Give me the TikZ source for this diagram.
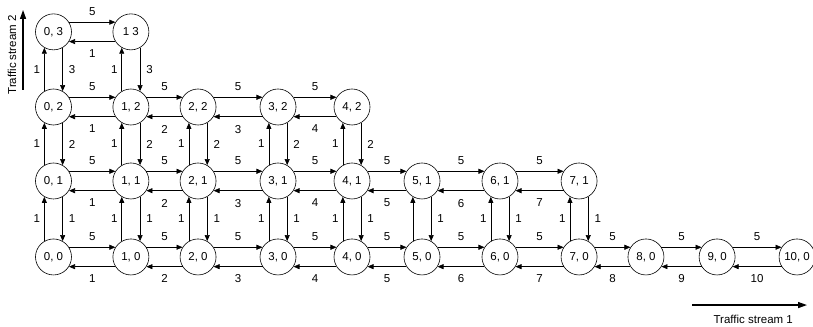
\documentclass[tikz,border=0pt]{standalone}
\usepackage{fontspec}
\setmainfont{Liberation Sans}
\usetikzlibrary{arrows.meta, positioning}
\tikzset{
    stateNode/.style={
        circle, draw=black, fill=white, line width=0.6pt, minimum size=36pt, inner sep=0pt, font=\fontsize{11.5}{13}\selectfont
    },
    rateArrow/.style={
        -{Triangle[length=6pt, width=5pt]}, line width=0.6pt, draw=black
    },
    rateLabel/.style={
        font=\fontsize{11.5}{13}\selectfont, inner sep=2pt
    },
    rateAbove/.style={rateLabel, above=4pt},
    rateBelow/.style={rateLabel, below=6pt},
    rateLeft/.style={rateLabel, left=2pt},
    rateRight/.style={rateLabel, right=4pt},
    streamArrow/.style={
        -{Triangle[length=9pt, width=6pt]}, line width=1.3pt, draw=black
    }
}

\begin{document}
\begin{tikzpicture}
    \useasboundingbox (0, 0) rectangle (28.57, -11.46);

    % ── ROW 0
    \node[stateNode] (st00) at (1.88, -9.03) {0, 0};
    \node[stateNode] (st10) at (4.60, -9.03) {1, 0};
    \node[stateNode] (st20) at (6.96, -9.03) {2, 0};
    \node[stateNode] (st30) at (9.77, -9.03) {3, 0};
    \node[stateNode] (st40) at (12.37, -9.03) {4, 0};
    \node[stateNode] (st50) at (14.83, -9.03) {5, 0};
    \node[stateNode] (st60) at (17.57, -9.03) {6, 0};
    \node[stateNode] (st70) at (20.35, -9.03) {7, 0};
    \node[stateNode] (st80) at (22.70, -9.03) {8, 0};
    \node[stateNode] (st90) at (25.20, -9.03) {9, 0};
    \node[stateNode] (st100) at (28.01, -9.03) {10, 0};

    % ── ROW 1
    \node[stateNode] (st01) at (1.88, -6.36) {0, 1};
    \node[stateNode] (st11) at (4.60, -6.36) {1, 1};
    \node[stateNode] (st21) at (6.96, -6.36) {2, 1};
    \node[stateNode] (st31) at (9.77, -6.36) {3, 1};
    \node[stateNode] (st41) at (12.37, -6.36) {4, 1};
    \node[stateNode] (st51) at (14.83, -6.36) {5, 1};
    \node[stateNode] (st61) at (17.57, -6.36) {6, 1};
    \node[stateNode] (st71) at (20.35, -6.36) {7, 1};

    % ── ROW 2
    \node[stateNode] (st02) at (1.88, -3.76) {0, 2};
    \node[stateNode] (st12) at (4.60, -3.76) {1, 2};
    \node[stateNode] (st22) at (6.96, -3.76) {2, 2};
    \node[stateNode] (st32) at (9.77, -3.76) {3, 2};
    \node[stateNode] (st42) at (12.37, -3.76) {4, 2};

    % ── ROW 3
    \node[stateNode] (st03) at (1.88, -1.12) {0, 3};
    \node[stateNode] (st13) at (4.60, -1.12) {1 3};

    % Row 0 transitions
    \draw[rateArrow] (st00.32) -- node[rateAbove] {5} (st10.148);
    \draw[rateArrow] (st10.-148) -- node[rateBelow] {1} (st00.-32);
    \draw[rateArrow] (st10.32) -- node[rateAbove] {5} (st20.148);
    \draw[rateArrow] (st20.-148) -- node[rateBelow] {2} (st10.-32);
    \draw[rateArrow] (st20.32) -- node[rateAbove] {5} (st30.148);
    \draw[rateArrow] (st30.-148) -- node[rateBelow] {3} (st20.-32);
    \draw[rateArrow] (st30.32) -- node[rateAbove] {5} (st40.148);
    \draw[rateArrow] (st40.-148) -- node[rateBelow] {4} (st30.-32);
    \draw[rateArrow] (st40.32) -- node[rateAbove] {5} (st50.148);
    \draw[rateArrow] (st50.-148) -- node[rateBelow] {5} (st40.-32);
    \draw[rateArrow] (st50.32) -- node[rateAbove] {5} (st60.148);
    \draw[rateArrow] (st60.-148) -- node[rateBelow] {6} (st50.-32);
    \draw[rateArrow] (st60.32) -- node[rateAbove] {5} (st70.148);
    \draw[rateArrow] (st70.-148) -- node[rateBelow] {7} (st60.-32);
    \draw[rateArrow] (st70.32) -- node[rateAbove] {5} (st80.148);
    \draw[rateArrow] (st80.-148) -- node[rateBelow] {8} (st70.-32);
    \draw[rateArrow] (st80.32) -- node[rateAbove] {5} (st90.148);
    \draw[rateArrow] (st90.-148) -- node[rateBelow] {9} (st80.-32);
    \draw[rateArrow] (st90.32) -- node[rateAbove] {5} (st100.148);
    \draw[rateArrow] (st100.-148) -- node[rateBelow] {10} (st90.-32);

    % Row 1 transitions
    \draw[rateArrow] (st01.32) -- node[rateAbove] {5} (st11.148);
    \draw[rateArrow] (st11.-148) -- node[rateBelow] {1} (st01.-32);
    \draw[rateArrow] (st11.32) -- node[rateAbove] {5} (st21.148);
    \draw[rateArrow] (st21.-148) -- node[rateBelow] {2} (st11.-32);
    \draw[rateArrow] (st21.32) -- node[rateAbove] {5} (st31.148);
    \draw[rateArrow] (st31.-148) -- node[rateBelow] {3} (st21.-32);
    \draw[rateArrow] (st31.32) -- node[rateAbove] {5} (st41.148);
    \draw[rateArrow] (st41.-148) -- node[rateBelow] {4} (st31.-32);
    \draw[rateArrow] (st41.32) -- node[rateAbove] {5} (st51.148);
    \draw[rateArrow] (st51.-148) -- node[rateBelow] {5} (st41.-32);
    \draw[rateArrow] (st51.32) -- node[rateAbove] {5} (st61.148);
    \draw[rateArrow] (st61.-148) -- node[rateBelow] {6} (st51.-32);
    \draw[rateArrow] (st61.32) -- node[rateAbove] {5} (st71.148);
    \draw[rateArrow] (st71.-148) -- node[rateBelow] {7} (st61.-32);

    % Row 2 transitions
    \draw[rateArrow] (st02.32) -- node[rateAbove] {5} (st12.148);
    \draw[rateArrow] (st12.-148) -- node[rateBelow] {1} (st02.-32);
    \draw[rateArrow] (st12.32) -- node[rateAbove] {5} (st22.148);
    \draw[rateArrow] (st22.-148) -- node[rateBelow] {2} (st12.-32);
    \draw[rateArrow] (st22.32) -- node[rateAbove] {5} (st32.148);
    \draw[rateArrow] (st32.-148) -- node[rateBelow] {3} (st22.-32);
    \draw[rateArrow] (st32.32) -- node[rateAbove] {5} (st42.148);
    \draw[rateArrow] (st42.-148) -- node[rateBelow] {4} (st32.-32);

    % Row 3 transitions
    \draw[rateArrow] (st03.32) -- node[rateAbove] {5} (st13.148);
    \draw[rateArrow] (st13.-148) -- node[rateBelow] {1} (st03.-32);

    % Vertical transitions, row 0 <-> row 1
    \draw[rateArrow] (st00.120) -- node[rateLeft] {1} (st01.-120);
    \draw[rateArrow] (st01.-60) -- node[rateRight] {1} (st00.60);
    \draw[rateArrow] (st10.120) -- node[rateLeft] {1} (st11.-120);
    \draw[rateArrow] (st11.-60) -- node[rateRight] {1} (st10.60);
    \draw[rateArrow] (st20.120) -- node[rateLeft] {1} (st21.-120);
    \draw[rateArrow] (st21.-60) -- node[rateRight] {1} (st20.60);
    \draw[rateArrow] (st30.120) -- node[rateLeft] {1} (st31.-120);
    \draw[rateArrow] (st31.-60) -- node[rateRight] {1} (st30.60);
    \draw[rateArrow] (st40.120) -- node[rateLeft] {1} (st41.-120);
    \draw[rateArrow] (st41.-60) -- node[rateRight] {1} (st40.60);
    \draw[rateArrow] (st50.120) -- (st51.-120);
    \draw[rateArrow] (st51.-60) -- node[rateRight] {1} (st50.60);
    \draw[rateArrow] (st60.120) -- node[rateLeft] {1} (st61.-120);
    \draw[rateArrow] (st61.-60) -- node[rateRight] {1} (st60.60);
    \draw[rateArrow] (st70.120) -- node[rateLeft] {1} (st71.-120);
    \draw[rateArrow] (st71.-60) -- node[rateRight] {1} (st70.60);

    % Vertical transitions, row 1 <-> row 2
    \draw[rateArrow] (st01.120) -- node[rateLeft] {1} (st02.-120);
    \draw[rateArrow] (st02.-60) -- node[rateRight] {2} (st01.60);
    \draw[rateArrow] (st11.120) -- node[rateLeft] {1} (st12.-120);
    \draw[rateArrow] (st12.-60) -- node[rateRight] {2} (st11.60);
    \draw[rateArrow] (st21.120) -- node[rateLeft] {1} (st22.-120);
    \draw[rateArrow] (st22.-60) -- node[rateRight] {2} (st21.60);
    \draw[rateArrow] (st31.120) -- node[rateLeft] {1} (st32.-120);
    \draw[rateArrow] (st32.-60) -- node[rateRight] {2} (st31.60);
    \draw[rateArrow] (st41.120) -- node[rateLeft] {1} (st42.-120);
    \draw[rateArrow] (st42.-60) -- node[rateRight] {2} (st41.60);

    % Vertical transitions, row 2 <-> row 3
    \draw[rateArrow] (st02.120) -- node[rateLeft] {1} (st03.-120);
    \draw[rateArrow] (st03.-60) -- node[rateRight] {3} (st02.60);
    \draw[rateArrow] (st12.120) -- node[rateLeft] {1} (st13.-120);
    \draw[rateArrow] (st13.-60) -- node[rateRight] {3} (st12.60);

    % ── TRAFFIC STREAM AXES
    \coordinate (streamTwoTail) at (0.81, -3.16);
    \coordinate (streamTwoHead) at (0.81, -0.35);
    \draw[streamArrow] (streamTwoTail) -- (streamTwoHead);
    \node[rateLabel, rotate=90] (streamTwoText) at (0.42, -1.93) {Traffic stream 2};

    \coordinate (streamOneTail) at (24.32, -10.72);
    \coordinate (streamOneHead) at (28.36, -10.72);
    \draw[streamArrow] (streamOneTail) -- (streamOneHead);
    \node[rateLabel] (streamOneText) at (26.47, -11.21) {Traffic stream 1};
\end{tikzpicture}
\end{document}
